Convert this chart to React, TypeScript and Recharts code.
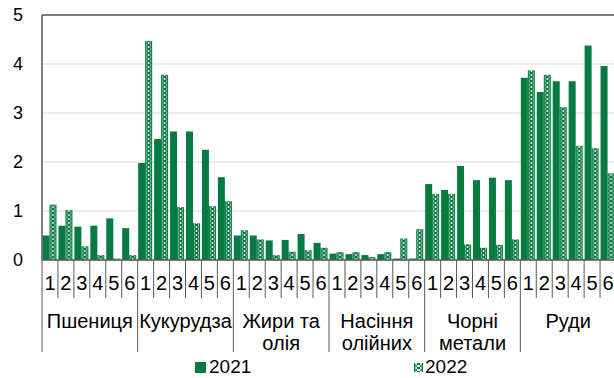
import { BarChart, Bar, XAxis, YAxis, CartesianGrid, ReferenceLine, Legend } from "recharts";

const months = ["1", "2", "3", "4", "5", "6"];
const groups = [
  ["Пшениця"],
  ["Кукурудза"],
  ["Жири та", "олія"],
  ["Насіння", "олійних"],
  ["Чорні", "метали"],
  ["Руди"],
];
const values2021 = [
  0.5, 0.7, 0.68, 0.7, 0.85, 0.65,
  1.98, 2.47, 2.62, 2.62, 2.25, 1.69,
  0.5, 0.5, 0.4, 0.41, 0.53, 0.35,
  0.13, 0.12, 0.1, 0.12, 0.03, 0.03,
  1.55, 1.43, 1.92, 1.63, 1.68, 1.63,
  3.72, 3.43, 3.65, 3.65, 4.38, 3.96,
];
const values2022 = [
  1.13, 1.02, 0.28, 0.1, 0.03, 0.1,
  4.47, 3.78, 1.08, 0.75, 1.1, 1.2,
  0.61, 0.42, 0.1, 0.17, 0.2, 0.25,
  0.16, 0.16, 0.06, 0.16, 0.44, 0.63,
  1.35, 1.35, 0.32, 0.25, 0.31, 0.42,
  3.87, 3.78, 3.12, 2.33, 2.28, 1.77,
];
const yTicks = [0, 1, 2, 3, 4, 5];

const GREEN = "#077a41";
const AXIS = "#595959";
const FONT = "'Liberation Sans', Arial, sans-serif";

const data = values2021.map((v, i) => ({
  month: months[i % 6],
  group: groups[Math.floor(i / 6)].join(" "),
  y2021: v,
  y2022: values2022[i],
}));

// small "x/o" chain pattern used for 2022 bars
function PatternTile({ id, x, y, w }: { id: string; x: number; y: number; w: number }) {
  return (
    <pattern id={id} patternUnits="userSpaceOnUse" x={x} y={y} width={w} height={4}>
      <rect x={0} y={0} width={w} height={4} fill="#fff" />
      <rect x={0} y={0} width={1.4} height={4} fill={GREEN} />
      <rect x={w - 1.4} y={0} width={1.4} height={4} fill={GREEN} />
      <rect x={w / 2 - 1.6} y={0} width={3.2} height={2} fill={GREEN} />
      <rect x={1.4} y={2} width={1.4} height={2} fill={GREEN} />
      <rect x={w - 2.8} y={2} width={1.4} height={2} fill={GREEN} />
    </pattern>
  );
}

const PatternBar = (props: any) => {
  const { x, y, width, height, index } = props;
  if (!height || height <= 0) return null;
  const id = `p2022-${index}`;
  return (
    <g>
      <defs>
        <PatternTile id={id} x={x} y={y + height} w={width} />
      </defs>
      <rect x={x} y={y} width={width} height={height} fill={`url(#${id})`} />
    </g>
  );
};

const MonthTick = (props: any) => {
  const { x, y, payload } = props;
  const half = payload.offset ?? 8;
  return (
    <g>
      <line x1={x - half} x2={x - half} y1={y} y2={y + 38} stroke={AXIS} strokeWidth={1} />
      <text x={x} y={y + 30} textAnchor="middle" fontSize={20} fontFamily={FONT} fill="#000">
        {payload.value}
      </text>
    </g>
  );
};

const GroupTick = (props: any) => {
  const { x, y, payload, index } = props;
  if (index % 6 !== 0) return null;
  const half = payload.offset ?? 8;
  const lines = groups[index / 6];
  const cx = x + 5 * half;
  return (
    <g>
      <line x1={x - half} x2={x - half} y1={y - 2} y2={y + 52} stroke={AXIS} strokeWidth={1} />
      {lines.map((t, k) => (
        <text key={k} x={cx} y={y + 28 + k * 22} textAnchor="middle" fontSize={20} fontFamily={FONT} fill="#000">
          {t}
        </text>
      ))}
    </g>
  );
};

const LegendContent = () => (
  <div style={{ position: "relative", width: 614, height: 22, fontFamily: FONT, fontSize: 19 }}>
    <div style={{ position: "absolute", left: 195, top: 6, width: 11, height: 11, background: GREEN }} />
    <span style={{ position: "absolute", left: 209, top: 0, lineHeight: "22px" }}>2021</span>
    <svg style={{ position: "absolute", left: 414, top: 7 }} width={9} height={9}>
      <defs>
        <PatternTile id="leg2022" x={0} y={0} w={9} />
      </defs>
      <rect x={0} y={0} width={9} height={9} fill="url(#leg2022)" />
    </svg>
    <span style={{ position: "absolute", left: 425, top: 0, lineHeight: "22px" }}>2022</span>
  </div>
);

export default function App() {
  return (
    <div style={{ position: "absolute", left: 0, top: 0, width: 614, height: 378, overflow: "hidden", background: "#fff" }}>
      <BarChart
        width={620}
        height={378}
        data={data}
        margin={{ top: 15, right: 4, bottom: 22, left: 0 }}
        barCategoryGap={0.5}
        barGap={0}
      >
        <CartesianGrid xAxisId="a" vertical={false} stroke="#d9d9d9" />
        <YAxis
          domain={[0, 5]}
          ticks={yTicks}
          width={42}
          axisLine={{ stroke: AXIS, strokeWidth: 1.5 }}
          tickLine={false}
          tickSize={0}
          tickMargin={19}
          tick={{ fontSize: 18, fontFamily: FONT, fill: "#000" }}
        />
        <XAxis
          xAxisId="a"
          dataKey="month"
          height={40}
          axisLine={{ stroke: AXIS, strokeWidth: 1.5 }}
          tickLine={false}
          tickSize={0}
          tickMargin={0}
          interval={0}
          tick={<MonthTick />}
        />
        <XAxis
          xAxisId="b"
          dataKey="group"
          height={56}
          axisLine={false}
          tickLine={false}
          tickSize={0}
          tickMargin={0}
          interval={0}
          tick={<GroupTick />}
        />
        <ReferenceLine xAxisId="a" y={5} stroke={AXIS} strokeWidth={1.5} />
        <Bar xAxisId="a" dataKey="y2021" fill={GREEN} isAnimationActive={false} />
        <Bar xAxisId="a" dataKey="y2022" shape={<PatternBar />} isAnimationActive={false} />
        <Legend
          verticalAlign="middle"
          align="center"
          layout="horizontal"
          content={() => <LegendContent />}
          wrapperStyle={{ position: "absolute", left: 0, top: 356, width: 614, height: 22 }}
        />
      </BarChart>
    </div>
  );
}
